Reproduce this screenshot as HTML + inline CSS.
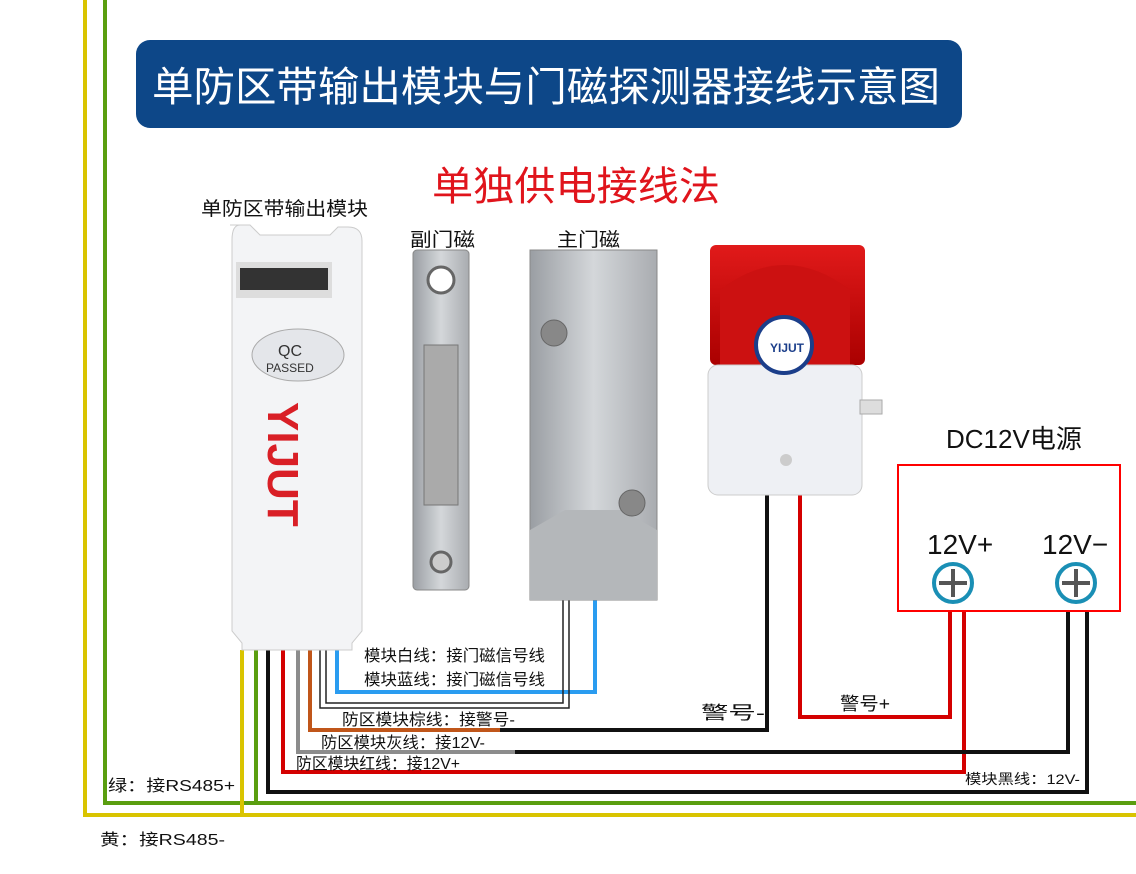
<!DOCTYPE html><html><head><meta charset="utf-8"><style>
body{margin:0;width:1136px;height:869px;background:#fff;overflow:hidden;font-family:"Liberation Sans","Noto Sans CJK SC",sans-serif}
</style></head><body>
<svg width="1136" height="869" viewBox="0 0 1136 869" xmlns="http://www.w3.org/2000/svg" style="font-family:'Liberation Sans','Noto Sans CJK SC',sans-serif">
<defs>
<linearGradient id="al" x1="0" x2="1"><stop offset="0" stop-color="#9a9ea3"/><stop offset=".5" stop-color="#d4d7da"/><stop offset="1" stop-color="#a9acb0"/></linearGradient>
<linearGradient id="rd" x1="0" y1="0" x2="0" y2="1"><stop offset="0" stop-color="#e11a1a"/><stop offset="1" stop-color="#a00"/></linearGradient>
</defs>
<rect x="136" y="40" width="826" height="88" rx="14" fill="#0d4788"/>
<text x="152" y="101" font-size="41" fill="#fff" textLength="788" lengthAdjust="spacingAndGlyphs">单防区带输出模块与门磁探测器接线示意图</text>
<text x="432" y="200" font-size="40" fill="#e0141c" textLength="288" lengthAdjust="spacingAndGlyphs">单独供电接线法</text>
<g fill="#111">
<text x="201" y="215" font-size="19" textLength="167" lengthAdjust="spacingAndGlyphs">单防区带输出模块</text>
<text x="410" y="246" font-size="19" textLength="65" lengthAdjust="spacingAndGlyphs">副门磁</text>
<text x="557" y="246" font-size="19" textLength="63" lengthAdjust="spacingAndGlyphs">主门磁</text>
</g>
<g fill="none" stroke-width="4">
<path d="M85 0V815H1136" stroke="#d9c400"/>
<path d="M105 0V803H1136" stroke="#5a9e10"/>
<path d="M242 650V815" stroke="#d9c400"/>
<path d="M256 650V803" stroke="#5a9e10"/>
<path d="M268 650V792H1087V612" stroke="#111"/>
<path d="M283 650V772H964V612" stroke="#d40000"/>
<path d="M298 650V752H515" stroke="#8c8c8c"/>
<path d="M515 752H1068V612" stroke="#111"/>
<path d="M310 650V730H500" stroke="#c0561a"/>
<path d="M500 730H767V495" stroke="#111"/>
<path d="M800 495V717H950V612" stroke="#d40000"/>
<path d="M337 650V692H595V590" stroke="#2a9cf0"/>
</g>
<g fill="none" stroke="#222" stroke-width="1.5">
<path d="M320 650V708H569V590"/><path d="M326 650V703H563V590"/>
</g>
<path d="M230 225h20l10 10h70l8-8h10q14 0 14 14v390l-10 12v7h-110v-7l-10-12V240q0-15 8-15z" fill="#f3f4f6" stroke="#ccc"/>
<rect x="236" y="262" width="96" height="36" fill="#ddd"/>
<rect x="240" y="268" width="88" height="22" fill="#333"/>
<ellipse cx="298" cy="355" rx="46" ry="26" fill="#e4e6ea" stroke="#aaa"/>
<text x="278" y="356" font-size="16" fill="#333">QC</text>
<text x="266" y="372" font-size="12" fill="#333">PASSED</text>
<text transform="translate(268 402) rotate(90)" font-size="44" font-weight="bold" fill="#d91f26">YIJUT</text>
<rect x="413" y="250" width="56" height="340" rx="4" fill="url(#al)" stroke="#888"/>
<circle cx="441" cy="280" r="13" fill="#fff" stroke="#666" stroke-width="3"/>
<rect x="424" y="345" width="34" height="160" fill="#aaa" stroke="#777"/>
<circle cx="441" cy="562" r="10" fill="#ccc" stroke="#666" stroke-width="3"/>
<path d="M530 250h127v350h-127z" fill="url(#al)" stroke="#888"/>
<path d="M530 530l35-20h57l35 20v70h-127z" fill="#b4b7ba"/>
<circle cx="554" cy="333" r="13" fill="#888" stroke="#666"/>
<circle cx="632" cy="503" r="13" fill="#888" stroke="#666"/>
<rect x="710" y="245" width="155" height="120" rx="6" fill="url(#rd)"/>
<path d="M720 290q65-50 130 0v80h-130z" fill="#c11" />
<rect x="708" y="365" width="154" height="130" rx="10" fill="#eef0f4" stroke="#ccc"/>
<rect x="860" y="400" width="22" height="14" fill="#ddd" stroke="#aaa"/>
<circle cx="784" cy="345" r="28" fill="#fff" stroke="#1b3e8a" stroke-width="4"/>
<text x="770" y="352" font-size="12" font-weight="bold" fill="#1b3e8a">YIJUT</text>
<circle cx="786" cy="460" r="6" fill="#ccc"/>
<text x="946" y="448" font-size="26" fill="#111">DC12V电源</text>
<rect x="898" y="465" width="222" height="146" fill="#fff" stroke="#f00" stroke-width="2"/>
<text x="927" y="554" font-size="28" fill="#111">12V+</text>
<text x="1042" y="554" font-size="28" fill="#111">12V−</text>
<g stroke="#1a8fb5" stroke-width="4" fill="#fff"><circle cx="953" cy="583" r="19"/><circle cx="1076" cy="583" r="19"/></g>
<g stroke="#555" stroke-width="4"><path d="M939 583h28M953 569v28M1062 583h28M1076 569v28"/></g>
<g font-size="16" fill="#111" lengthAdjust="spacingAndGlyphs">
<text x="364" y="661" textLength="181" lengthAdjust="spacingAndGlyphs">模块白线：接门磁信号线</text>
<text x="364" y="685" textLength="181" lengthAdjust="spacingAndGlyphs">模块蓝线：接门磁信号线</text>
<text x="342" y="725" textLength="173" lengthAdjust="spacingAndGlyphs">防区模块棕线：接警号-</text>
<text x="321" y="748" textLength="164" lengthAdjust="spacingAndGlyphs">防区模块灰线：接12V-</text>
<text x="296" y="769" textLength="164" lengthAdjust="spacingAndGlyphs">防区模块红线：接12V+</text>
<text x="108" y="791" textLength="127" lengthAdjust="spacingAndGlyphs">绿：接RS485+</text>
<text x="100" y="845" textLength="125" lengthAdjust="spacingAndGlyphs">黄：接RS485-</text>
<text x="965" y="784" font-size="14" textLength="115" lengthAdjust="spacingAndGlyphs">模块黑线：12V-</text>
<text x="701" y="719" font-size="18" textLength="64" lengthAdjust="spacingAndGlyphs">警号-</text>
<text x="840" y="710" font-size="18" textLength="50" lengthAdjust="spacingAndGlyphs">警号+</text>
</g>
</svg>
</body></html>
